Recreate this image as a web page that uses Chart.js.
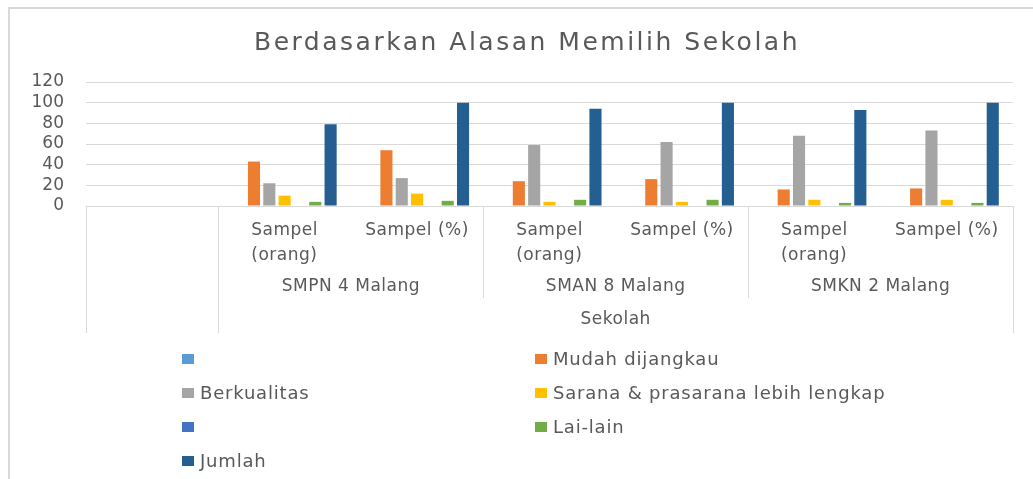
<!DOCTYPE html>
<html>
<head>
<meta charset="utf-8">
<title>Berdasarkan Alasan Memilih Sekolah</title>
<script src="https://cdn.jsdelivr.net/npm/chart.js@4.4.0/dist/chart.umd.min.js"></script>
<style>
  body { margin: 0; background: #fff; }
</style>
</head>
<body>
<canvas id="myChart" width="1033" height="479"></canvas>
<script>
// chart data
var chartTitle = 'Berdasarkan Alasan Memilih Sekolah';
var categories = [
  [''],
  ['Sampel', '(orang)'], ['Sampel (%)'],
  ['Sampel', '(orang)'], ['Sampel (%)'],
  ['Sampel', '(orang)'], ['Sampel (%)']
];
var schools = ['SMPN 4 Malang', 'SMAN 8 Malang', 'SMKN 2 Malang'];
var axisTitle = 'Sekolah';
var yTicks = [0, 20, 40, 60, 80, 100, 120];

var seriesNames = ['', 'Mudah dijangkau', 'Berkualitas', 'Sarana & prasarana lebih lengkap', '', 'Lai-lain', 'Jumlah'];
var seriesColors = ['#5B9BD5', '#ED7D31', '#A5A5A5', '#FFC000', '#4472C4', '#70AD47', '#255E91'];

var kosong1   = [null, null, null, null, null, null, null];
var mudah     = [null, 43, 54, 24, 26, 16, 17];
var kualitas  = [null, 22, 27, 59, 62, 68, 73];
var sarana    = [null, 10, 12, 4, 4, 6, 6];
var kosong2   = [null, null, null, null, null, null, null];
var lainLain  = [null, 4, 5, 6, 6, 3, 3];
var jumlah    = [null, 79, 100, 94, 100, 93, 100];

var seriesValues = [kosong1, mudah, kualitas, sarana, kosong2, lainLain, jumlah];

var textColor = '#595959';
var lineColor = '#D9D9D9';

function setFont(ctx, size, spacing) {
  ctx.font = size + 'px "DejaVu Sans"';
  ctx.fillStyle = textColor;
  ctx.letterSpacing = (spacing || 0) + 'px';
}

// draws title, frame, multi-level category axis and legend
var decorPlugin = {
  id: 'decor',
  afterDraw: function(chart) {
    var ctx = chart.ctx;
    var x = chart.scales.x;
    var area = chart.chartArea;
    var base = area.bottom;

    ctx.save();

    // frame
    ctx.strokeStyle = lineColor;
    ctx.lineWidth = 2;
    ctx.strokeRect(9, 8, 1100, 600);

    // title
    setFont(ctx, 25, 2.5);
    ctx.textAlign = 'center';
    ctx.textBaseline = 'middle';
    ctx.fillText(chartTitle, 527, 43);

    var half = (x.getPixelForValue(1) - x.getPixelForValue(0)) / 2;
    var edge = function(i) { return x.getPixelForValue(i) - half; };

    // separators
    ctx.lineWidth = 1;
    ctx.strokeStyle = lineColor;
    [[0, 333], [1, 333], [3, 298], [5, 298], [7, 333]].forEach(function(s) {
      var px = Math.round(edge(s[0])) + 0.5;
      ctx.beginPath();
      ctx.moveTo(px, base);
      ctx.lineTo(px, s[1]);
      ctx.stroke();
    });

    // category labels
    setFont(ctx, 17, 0.5);
    ctx.textAlign = 'left';
    categories.forEach(function(lines, i) {
      var cx = x.getPixelForValue(i);
      var w = 0;
      lines.forEach(function(t) { w = Math.max(w, ctx.measureText(t).width); });
      lines.forEach(function(t, k) {
        ctx.fillText(t, cx - w / 2, 231 + k * 25);
      });
    });

    // school labels
    ctx.textAlign = 'center';
    schools.forEach(function(s, g) {
      var cx = (x.getPixelForValue(1 + g * 2) + x.getPixelForValue(2 + g * 2)) / 2;
      ctx.fillText(s, cx, 287);
    });
    ctx.fillText(axisTitle, (edge(1) + edge(7)) / 2, 320);

    // legend, two columns
    setFont(ctx, 18, 0.8);
    ctx.textAlign = 'left';
    var colX = [182, 535];
    chart.data.datasets.forEach(function(ds, i) {
      var lx = colX[i % 2];
      var ly = 359 + Math.floor(i / 2) * 34;
      ctx.fillStyle = ds.backgroundColor;
      ctx.fillRect(lx, ly - 5, 12, 10);
      ctx.fillStyle = textColor;
      ctx.fillText(ds.label, lx + 18, ly + 1);
    });

    ctx.restore();
  }
};

var datasets = seriesNames.map(function(name, i) {
  return {
    label: name,
    data: seriesValues[i],
    backgroundColor: seriesColors[i],
    borderWidth: 0,
    categoryPercentage: 0.81,
    barPercentage: 0.79
  };
});

new Chart(document.getElementById('myChart'), {
  type: 'bar',
  data: {
    labels: categories,
    datasets: datasets
  },
  options: {
    responsive: false,
    animation: false,
    devicePixelRatio: 1,
    layout: { padding: { left: 10, top: 82, right: 20, bottom: 273 } },
    plugins: {
      legend: { display: false },
      title: { display: false },
      tooltip: { enabled: false }
    },
    scales: {
      x: { display: false },
      y: {
        min: 0,
        max: 120,
        afterFit: function(scale) { scale.width = 76; },
        afterBuildTicks: function(scale) {
          scale.ticks = yTicks.map(function(v) { return { value: v }; });
        },
        border: { display: false },
        grid: { color: lineColor, lineWidth: 1, drawTicks: false },
        ticks: {
          color: textColor,
          padding: 22,
          autoSkip: false,
          font: { family: 'DejaVu Sans', size: 17 }
        }
      }
    }
  },
  plugins: [decorPlugin]
});
</script>
</body>
</html>
